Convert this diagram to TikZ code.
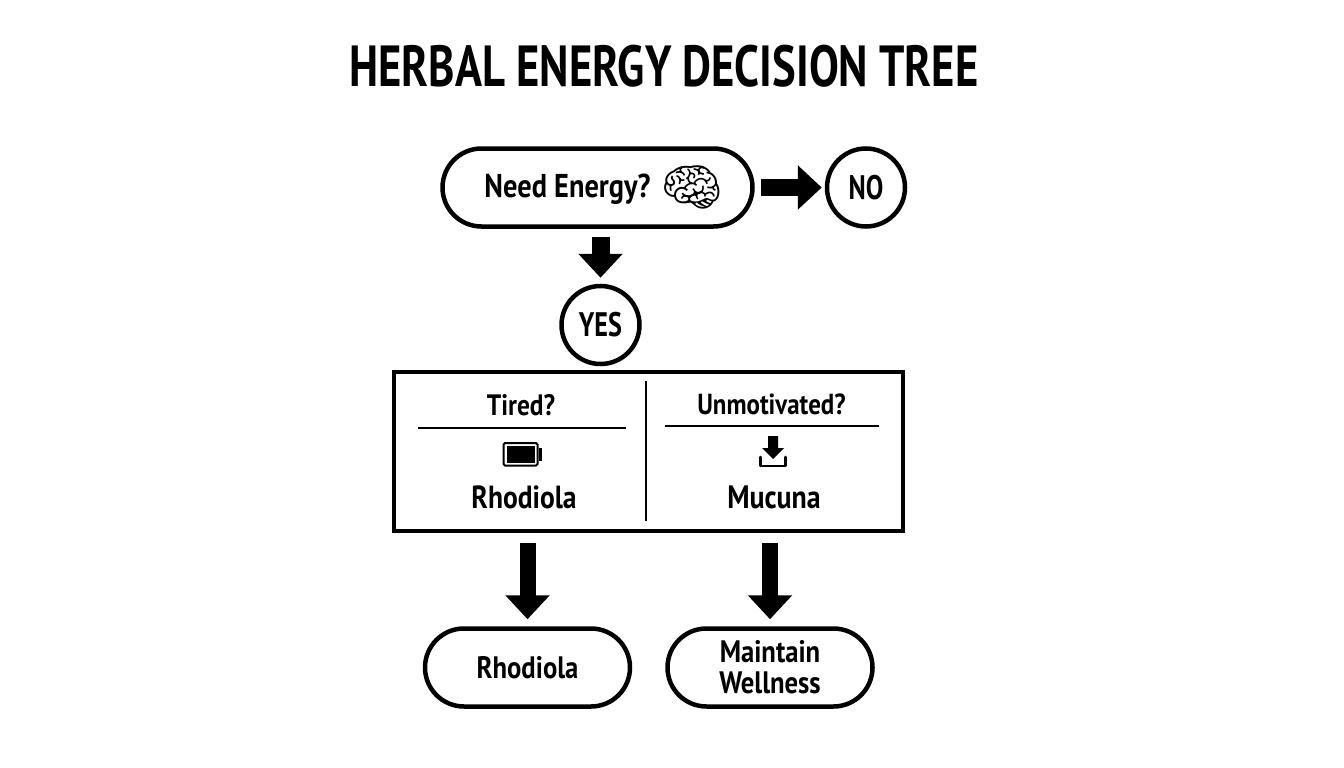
\documentclass[tikz,border=0pt]{standalone}
\usepackage{fontspec}
\usetikzlibrary{arrows.meta,shapes.misc,calc}
\setmainfont{PT Sans}[BoldFont={PT Sans Bold},FakeStretch=0.86]
\newfontfamily\titlefont{PT Sans Bold}[FakeStretch=0.77]
\newfontfamily\emojifont{Noto Emoji}
\newcommand{\fs}[1]{\fontsize{#1}{#1}\selectfont\bfseries}
\tikzset{
  pill/.style={draw=black,line width=4.5pt,rounded rectangle,fill=white,align=center,inner sep=0pt},
  yesno/.style={draw=black,line width=4.5pt,circle,minimum size=78pt,inner sep=0pt,font={\titlefont\fontsize{34}{34}\selectfont}},
  blockarrow/.style={draw=black,line width=#1,-{Triangle[length=24pt,width=43pt]},shorten <=8pt},
  blockarrow/.default=17pt,
  label/.style={inner sep=0pt,align=center},
  thinrule/.style={draw=black,line width=2pt},
}
\begin{document}
\begin{tikzpicture}[x=1pt,y=-1pt]
\useasboundingbox[fill=white] (0,0) rectangle (1344,768);
\node[label,font={\titlefont\fontsize{58}{58}\selectfont}] (title) at (664,66) {HERBAL ENERGY DECISION TREE};
\node[pill,minimum width=310pt,minimum height=78pt] (need) at (597.5,187.5) {};
\node[label,font=\fs{33}] (needt) at (567.5,189.5) {Need Energy?};
\node[label,font={\emojifont\fontsize{50}{50}\selectfont}] (brain) at (692,187) {🧠};
\node[yesno] (no) at (866,187.5) {NO};
\node[yesno] (yes) at (600.5,325) {YES};
\node[draw=black,line width=4.5pt,minimum width=509pt,minimum height=159pt,inner sep=0pt] (box) at (648.5,451.5) {};
\coordinate (divt) at (646,381);
\coordinate (divb) at (646,521);
\draw[thinrule] (divt) -- (divb);
\coordinate (lla) at (418,427.5);
\coordinate (llb) at (626,427.5);
\draw[thinrule] (lla) -- (llb);
\coordinate (rla) at (665,425.5);
\coordinate (rlb) at (879,425.5);
\draw[thinrule] (rla) -- (rlb);
\node[label,font=\fs{29.5}] (tired) at (521,405) {Tired?};
\node[label,font=\fs{29}] (unmot) at (771.5,404.5) {Unmotivated?};
\node[label,font=\fs{32}] (rh) at (524,497) {Rhodiola};
\node[label,font=\fs{32.4}] (mu) at (774,497) {Mucuna};
% battery icon
\draw[black,line width=2pt,rounded corners=1.5pt] (503.5,443) rectangle (537.5,465.5);
\fill[black] (506.5,446) rectangle (534.5,462.5);
\fill[black] (538.5,448) rectangle (542,460.5);
% download icon
\fill[black] (768,436) -- (778,436) -- (778,448) -- (784,448) -- (773,459) -- (762,448) -- (768,448) -- cycle;
\draw[black,line width=2.6pt,line cap=round,line join=round] (760.5,457) -- (760.5,466) -- (785.5,466) -- (785.5,457);
\node[pill,minimum width=205pt,minimum height=78pt,font=\fs{31}] (rhodb) at (527.5,667.5) {Rhodiola};
\node[pill,minimum width=205pt,minimum height=78pt,font=\fs{31}] (maint) at (770,667.5) {Maintain\\[0pt]Wellness};
\draw[blockarrow,shorten >=3pt,shorten <=6pt] (need.east) -- (no.west);
\draw[blockarrow=18pt,shorten >=6pt] (need.south -| yes.north) -- (yes.north);
\draw[blockarrow=16pt,shorten >=7pt,shorten <=10pt] (rhodb.north |- box.south) -- (rhodb.north);
\draw[blockarrow=16pt,shorten >=7pt,shorten <=10pt] (maint.north |- box.south) -- (maint.north);
\end{tikzpicture}
\end{document}
